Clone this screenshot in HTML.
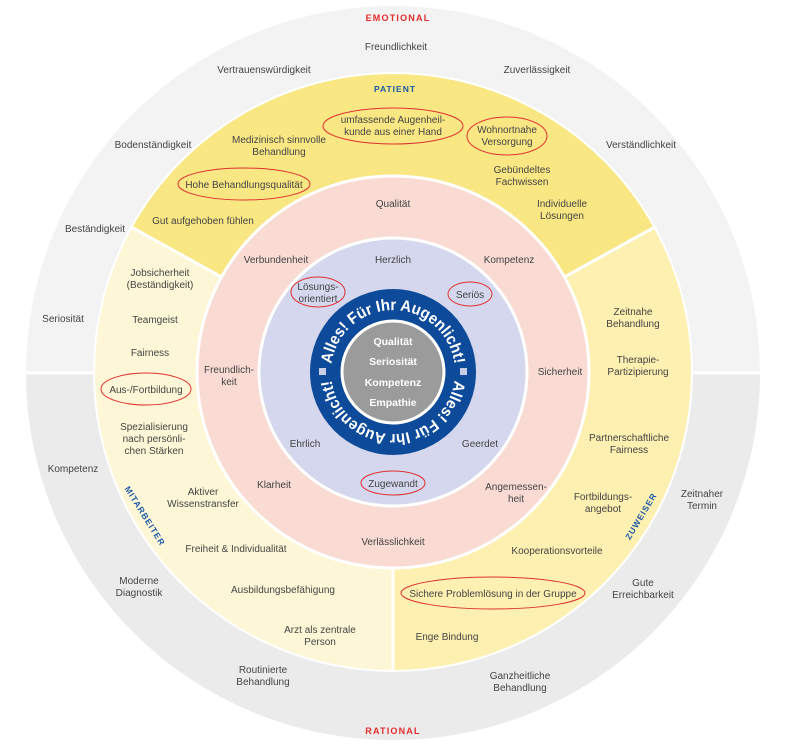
<!DOCTYPE html>
<html><head><meta charset="utf-8"><style>
html,body{margin:0;padding:0;background:#fff;}
svg{display:block;}
text{font-family:"Liberation Sans",sans-serif;font-size:10px;fill:#444;text-anchor:middle;}
.r{fill:#e32b2b;font-weight:bold;font-size:9px;letter-spacing:1.2px;}
.b{fill:#1a5aa6;font-weight:bold;font-size:8.5px;letter-spacing:1px;}
.w{fill:#fff;font-weight:bold;font-size:10.5px;}
ellipse.e{fill:none;stroke:#e0302f;stroke-width:1;}
</style></head><body>
<svg width="795" height="748" viewBox="0 0 795 748" xmlns="http://www.w3.org/2000/svg">
<defs>
<path id="topArc" d="M334.7,393.2 A62,62 0 1,1 451.3,393.2"/>
<path id="botArc" d="M455,372 A62,62 0 0,1 331,372"/>
</defs>
<path d="M26,373 A367,367 0 0,1 760,373 Z" fill="#f3f3f3"/>
<path d="M26,373 A367,367 0 0,0 760,373 Z" fill="#ebebeb"/>
<line x1="20" y1="373" x2="766" y2="373" stroke="#fff" stroke-width="3"/>
<circle cx="393" cy="372" r="300" fill="#fff"/>
<path d="M393,372 L132.4,227.5 A298,298 0 0,1 653.6,227.5 Z" fill="#f9e783"/>
<path d="M393,372 L393,670 A298,298 0 0,1 132.4,227.5 Z" fill="#fef7d7"/>
<path d="M393,372 L653.6,227.5 A298,298 0 0,1 393,670 Z" fill="#fdf0b1"/>
<line x1="393" y1="372" x2="130" y2="226.3" stroke="#fff" stroke-width="3"/>
<line x1="393" y1="372" x2="656" y2="226.3" stroke="#fff" stroke-width="3"/>
<line x1="393" y1="372" x2="393" y2="672" stroke="#fff" stroke-width="3"/>
<circle cx="393" cy="372" r="196" fill="#f9dbd3" stroke="#fff" stroke-width="3"/>
<circle cx="393" cy="372" r="134" fill="#d4d7ee" stroke="#fff" stroke-width="3"/>
<circle cx="393" cy="372" r="83" fill="#0d4a9a"/>
<circle cx="393" cy="372" r="51" fill="#9b9b9b" stroke="#fff" stroke-width="3"/>
<rect x="319" y="368" width="7" height="7" fill="#c9cde6"/>
<rect x="460" y="368" width="7" height="7" fill="#c9cde6"/>
<text style="fill:#fff;font-weight:bold;font-size:16px;text-anchor:middle"><textPath href="#topArc" startOffset="50%" textLength="178" lengthAdjust="spacingAndGlyphs">Alles! Für Ihr Augenlicht!</textPath></text>
<text style="fill:#fff;font-weight:bold;font-size:16px;text-anchor:middle"><textPath href="#botArc" startOffset="50%" textLength="178" lengthAdjust="spacingAndGlyphs">Alles! Für Ihr Augenlicht!</textPath></text>
<text class="w" x="393" y="345">Qualität</text>
<text class="w" x="393" y="365">Seriosität</text>
<text class="w" x="393" y="386">Kompetenz</text>
<text class="w" x="393" y="406">Empathie</text>
<text class="r" x="398" y="21">EMOTIONAL</text>
<text x="396" y="50">Freundlichkeit</text>
<text x="264" y="73">Vertrauenswürdigkeit</text>
<text x="537" y="73">Zuverlässigkeit</text>
<text x="153" y="148">Bodenständigkeit</text>
<text x="641" y="148">Verständlichkeit</text>
<text x="95" y="232">Beständigkeit</text>
<text x="63" y="322">Seriosität</text>
<text x="73" y="472">Kompetenz</text>
<text x="702" y="497">Zeitnaher</text><text x="702" y="509">Termin</text>
<text x="139" y="584">Moderne</text><text x="139" y="596">Diagnostik</text>
<text x="643" y="586">Gute</text><text x="643" y="598">Erreichbarkeit</text>
<text x="263" y="673">Routinierte</text><text x="263" y="685">Behandlung</text>
<text x="520" y="679">Ganzheitliche</text><text x="520" y="691">Behandlung</text>
<text class="r" x="393" y="734">RATIONAL</text>
<text class="b" x="395" y="92">PATIENT</text>
<ellipse class="e" cx="393" cy="126" rx="70" ry="18"/>
<text x="393" y="123">umfassende Augenheil-</text><text x="393" y="135">kunde aus einer Hand</text>
<ellipse class="e" cx="507" cy="136" rx="40" ry="19"/>
<text x="507" y="133">Wohnortnahe</text><text x="507" y="145">Versorgung</text>
<text x="279" y="143">Medizinisch sinnvolle</text><text x="279" y="155">Behandlung</text>
<text x="522" y="173">Gebündeltes</text><text x="522" y="185">Fachwissen</text>
<ellipse class="e" cx="244" cy="184" rx="66" ry="16"/>
<text x="244" y="188">Hohe Behandlungsqualität</text>
<text x="562" y="207">Individuelle</text><text x="562" y="219">Lösungen</text>
<text x="203" y="224">Gut aufgehoben fühlen</text>
<text x="160" y="276">Jobsicherheit</text><text x="160" y="288">(Beständigkeit)</text>
<text x="155" y="323">Teamgeist</text>
<text x="150" y="356">Fairness</text>
<ellipse class="e" cx="146" cy="389" rx="45" ry="16"/>
<text x="146" y="393">Aus-/Fortbildung</text>
<text x="154" y="430">Spezialisierung</text><text x="154" y="442">nach persönli-</text><text x="154" y="454">chen Stärken</text>
<text x="203" y="495">Aktiver</text><text x="203" y="507">Wissenstransfer</text>
<text x="236" y="552">Freiheit &amp; Individualität</text>
<text x="283" y="593">Ausbildungsbefähigung</text>
<text x="320" y="633">Arzt als zentrale</text><text x="320" y="645">Person</text>
<text class="b" x="0" y="0" transform="translate(145,516) rotate(58)" dy="3">MITARBEITER</text>
<text x="633" y="315">Zeitnahe</text><text x="633" y="327">Behandlung</text>
<text x="638" y="363">Therapie-</text><text x="638" y="375">Partizipierung</text>
<text x="629" y="441">Partnerschaftliche</text><text x="629" y="453">Fairness</text>
<text x="603" y="500">Fortbildungs-</text><text x="603" y="512">angebot</text>
<text x="557" y="554">Kooperationsvorteile</text>
<text class="b" x="0" y="0" transform="translate(641,516) rotate(-59)" dy="3">ZUWEISER</text>
<ellipse class="e" cx="493" cy="593" rx="92" ry="16"/>
<text x="493" y="597">Sichere Problemlösung in der Gruppe</text>
<text x="447" y="640">Enge Bindung</text>
<text x="393" y="207">Qualität</text>
<text x="276" y="263">Verbundenheit</text>
<text x="509" y="263">Kompetenz</text>
<text x="229" y="373">Freundlich-</text><text x="229" y="385">keit</text>
<text x="560" y="375">Sicherheit</text>
<text x="274" y="488">Klarheit</text>
<text x="516" y="490">Angemessen-</text><text x="516" y="502">heit</text>
<text x="393" y="545">Verlässlichkeit</text>
<text x="393" y="263">Herzlich</text>
<ellipse class="e" cx="318" cy="292" rx="27" ry="15"/>
<text x="318" y="290">Lösungs-</text><text x="318" y="302">orientiert</text>
<ellipse class="e" cx="470" cy="294" rx="22" ry="12"/>
<text x="470" y="298">Seriös</text>
<text x="305" y="447">Ehrlich</text>
<text x="480" y="447">Geerdet</text>
<ellipse class="e" cx="393" cy="483" rx="32" ry="12"/>
<text x="393" y="487">Zugewandt</text>
</svg>
</body></html>
